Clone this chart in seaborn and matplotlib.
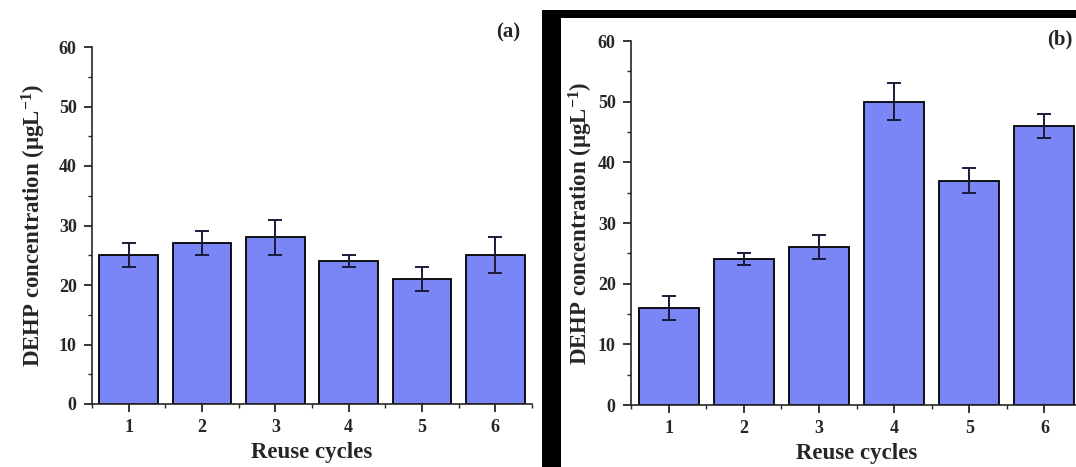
import numpy as np
import pandas as pd
import matplotlib
matplotlib.use("Agg")
import matplotlib.pyplot as plt
from matplotlib.patches import Rectangle
from matplotlib.ticker import MultipleLocator, FixedLocator
import seaborn as sns

# données
cycles = ["1", "2", "3", "4", "5", "6"]
dehp_a = [25, 27, 28, 24, 21, 25]
err_a = [2, 2, 3, 1, 2, 3]
dehp_b = [16, 24, 26, 50, 37, 46]
err_b = [2, 1, 2, 3, 2, 2]

sns.set_style("ticks")
plt.rcParams["font.family"] = ["Liberation Serif", "DejaVu Serif"]
plt.rcParams["font.weight"] = "bold"
plt.rcParams["mathtext.fontset"] = "custom"
plt.rcParams["mathtext.rm"] = "Liberation Serif:bold"
plt.rcParams["mathtext.bf"] = "Liberation Serif:bold"
plt.rcParams["mathtext.it"] = "Liberation Serif:bold"

BAR = "#7a86f6"
W, H = 1076, 467

fig = plt.figure(figsize=(W / 100, H / 100), dpi=100)
fig.patch.set_facecolor("white")

# cadre noir autour du panneau (b)
fig.patches.append(Rectangle((542 / W, 0), 1 - 542 / W, (H - 10) / H,
                             transform=fig.transFigure, facecolor="black",
                             edgecolor="none", zorder=-2))
fig.patches.append(Rectangle((561 / W, 0), 1 - 561 / W, (H - 18) / H,
                             transform=fig.transFigure, facecolor="white",
                             edgecolor="none", zorder=-1))

ax_a = fig.add_axes([92 / W, 1 - 404 / H, 440 / W, 357 / H])
ax_b = fig.add_axes([631 / W, 1 - 405 / H, 451 / W, 364 / H])


def draw(ax, vals, errs, ypad):
    df = pd.DataFrame({"cycle": cycles, "dehp": vals})
    sns.barplot(data=df, x="cycle", y="dehp", color=BAR, saturation=1,
                width=0.8, edgecolor="black", linewidth=1.3,
                errorbar=None, ax=ax)
    ax.errorbar(np.arange(len(cycles)), vals, yerr=errs, fmt="none",
                ecolor="#1a1a3a", elinewidth=1.4, capsize=5, capthick=1.4)
    ax.set_facecolor("none")
    ax.set_xlim(-0.5, len(cycles) - 0.5)
    ax.set_ylim(0, 60)
    ax.yaxis.set_major_locator(MultipleLocator(10))
    ax.yaxis.set_minor_locator(MultipleLocator(5))
    ax.xaxis.set_minor_locator(FixedLocator(np.arange(-0.5, len(cycles), 1)))
    ax.tick_params(which="major", direction="out", length=6, width=1.3,
                   labelsize=13, pad=5)
    ax.tick_params(which="minor", direction="out", length=3, width=1)
    for lab in ax.get_xticklabels() + ax.get_yticklabels():
        lab.set_fontweight("bold")
    sns.despine(ax=ax)
    ax.spines["left"].set_linewidth(1.2)
    ax.spines["bottom"].set_linewidth(1.2)
    ax.set_xlabel("Reuse cycles", fontsize=16.5, fontweight="bold", labelpad=4)
    ax.set_ylabel(r"DEHP concentration (μgL$^{-1}$)", fontsize=16.5,
                  fontweight="bold", labelpad=ypad)


draw(ax_a, dehp_a, err_a, 8)
draw(ax_b, dehp_b, err_b, 2)

fig.text(508 / W, 1 - 32 / H, "(a)", fontsize=15, fontweight="bold",
         ha="center", va="center")
fig.text(1060 / W, 1 - 39 / H, "(b)", fontsize=15, fontweight="bold",
         ha="center", va="center")

fig.savefig("out.png", dpi=100)
